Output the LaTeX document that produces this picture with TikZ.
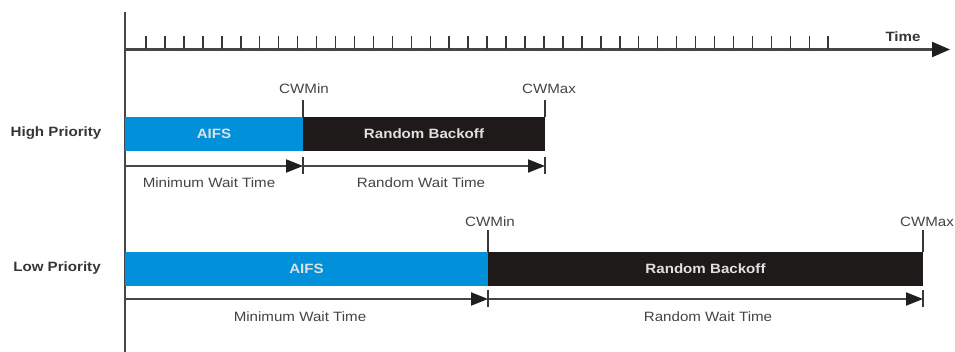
\documentclass[tikz,border=0pt]{standalone}
\usepackage{fontspec}
\setmainfont{Liberation Sans}[FakeStretch=1.12]
\usepackage{tikz}
\usetikzlibrary{arrows.meta}
\usetikzlibrary{calc}
\tikzset{>={Triangle[length=17pt,width=13pt,color=black!88]}}
\definecolor{aifsblue}{RGB}{0,145,218}
\definecolor{backoffblack}{RGB}{30,26,26}
\definecolor{axisgray}{RGB}{70,70,70}
\definecolor{labelgray}{RGB}{68,68,68}

\begin{document}
\begin{tikzpicture}[x=1pt,y=-1pt,
    axisline/.style={draw=axisgray, line width=2.2pt},
    tickline/.style={draw=axisgray!80!black, line width=1.5pt},
    waitline/.style={draw=axisgray, line width=1.9pt},
    lbl/.style={text=labelgray, inner sep=0pt, font=\fontsize{13.5}{16}\selectfont},
    rowlbl/.style={text=labelgray!80!black, inner sep=0pt, font=\bfseries\fontsize{13.5}{16}\selectfont},
    barlbl/.style={text=white!88!black, inner sep=0pt, font=\bfseries\fontsize{13.5}{16}\selectfont}]
    \useasboundingbox (0,0) rectangle (955,352);

    \def\barh{34}
    \def\halfbar{8.5}

    % Axes
    \coordinate (ytop) at (125,12);
    \coordinate (ybot) at (125,352);
    \coordinate (tstart) at (125,49.5);
    \coordinate (tend) at (950,49.5);

    \draw[axisline] (ytop) -- (ybot);
    \draw[axisline, -{Triangle[length=18pt,width=15pt,color=black!88]}] (tstart) -- (tend);
    \foreach \i in {0,...,36}
        \draw[tickline] ({146+18.95*\i},36) -- ({146+18.95*\i},49.5);

    % High priority
    \coordinate (hA) at (125,117);
    \coordinate (hB) at (303,117);
    \coordinate (hC) at (545,117);
    \coordinate (hwA) at (125,166);
    \coordinate (hwB) at (303,166);
    \coordinate (hwC) at (545,166);

    \fill[aifsblue] (hA) rectangle ($(hB)+(0,\barh)$);
    \fill[backoffblack] (hB) rectangle ($(hC)+(0,\barh)$);

    \draw[tickline] (hB) -- ($(hB)+(0,-17)$);
    \draw[tickline] (hC) -- ($(hC)+(0,-17)$);

    \draw[waitline, ->] (hwA) -- (hwB);
    \draw[waitline, ->] (hwB) -- (hwC);
    \draw[tickline] ($(hwB)+(0,-\halfbar)$) -- ($(hwB)+(0,\halfbar)$);
    \draw[tickline] ($(hwC)+(0,-\halfbar)$) -- ($(hwC)+(0,\halfbar)$);

    % Low priority
    \coordinate (lA) at (125,252);
    \coordinate (lB) at (488,252);
    \coordinate (lC) at (923,252);
    \coordinate (lwA) at (125,299);
    \coordinate (lwB) at (488,299);
    \coordinate (lwC) at (923,299);

    \fill[aifsblue] (lA) rectangle ($(lB)+(0,\barh)$);
    \fill[backoffblack] (lB) rectangle ($(lC)+(0,\barh)$);

    \draw[tickline] (lB) -- ($(lB)+(0,-22)$);
    \draw[tickline] (lC) -- ($(lC)+(0,-22)$);

    \draw[waitline, ->] (lwA) -- (lwB);
    \draw[waitline, ->] (lwB) -- (lwC);
    \draw[tickline] ($(lwB)+(0,-\halfbar)$) -- ($(lwB)+(0,\halfbar)$);
    \draw[tickline] ($(lwC)+(0,-\halfbar)$) -- ($(lwC)+(0,\halfbar)$);

    % Labels
    \node[rowlbl] (timelbl) at (903,37) {Time};
    \node[rowlbl] (highlbl) at (56,133) {High Priority};
    \node[rowlbl] (lowlbl) at (57,268) {Low Priority};

    \node[lbl] (hminlbl) at (304,89) {CWMin};
    \node[lbl] (hmaxlbl) at (549,89) {CWMax};
    \node[barlbl] (haifs) at ($(hA)!0.5!(hB)+(0,17)$) {AIFS};
    \node[barlbl] (hback) at ($(hB)!0.5!(hC)+(0,17)$) {Random Backoff};
    \node[lbl] (hminwait) at (209,183) {Minimum Wait Time};
    \node[lbl] (hrandwait) at (421,183) {Random Wait Time};

    \node[lbl] (lminlbl) at (490,222) {CWMin};
    \node[lbl] (lmaxlbl) at (927,222) {CWMax};
    \node[barlbl] (laifs) at ($(lA)!0.5!(lB)+(0,17)$) {AIFS};
    \node[barlbl] (lback) at ($(lB)!0.5!(lC)+(0,17)$) {Random Backoff};
    \node[lbl] (lminwait) at (300,317) {Minimum Wait Time};
    \node[lbl] (lrandwait) at (708,317) {Random Wait Time};
\end{tikzpicture}
\end{document}
